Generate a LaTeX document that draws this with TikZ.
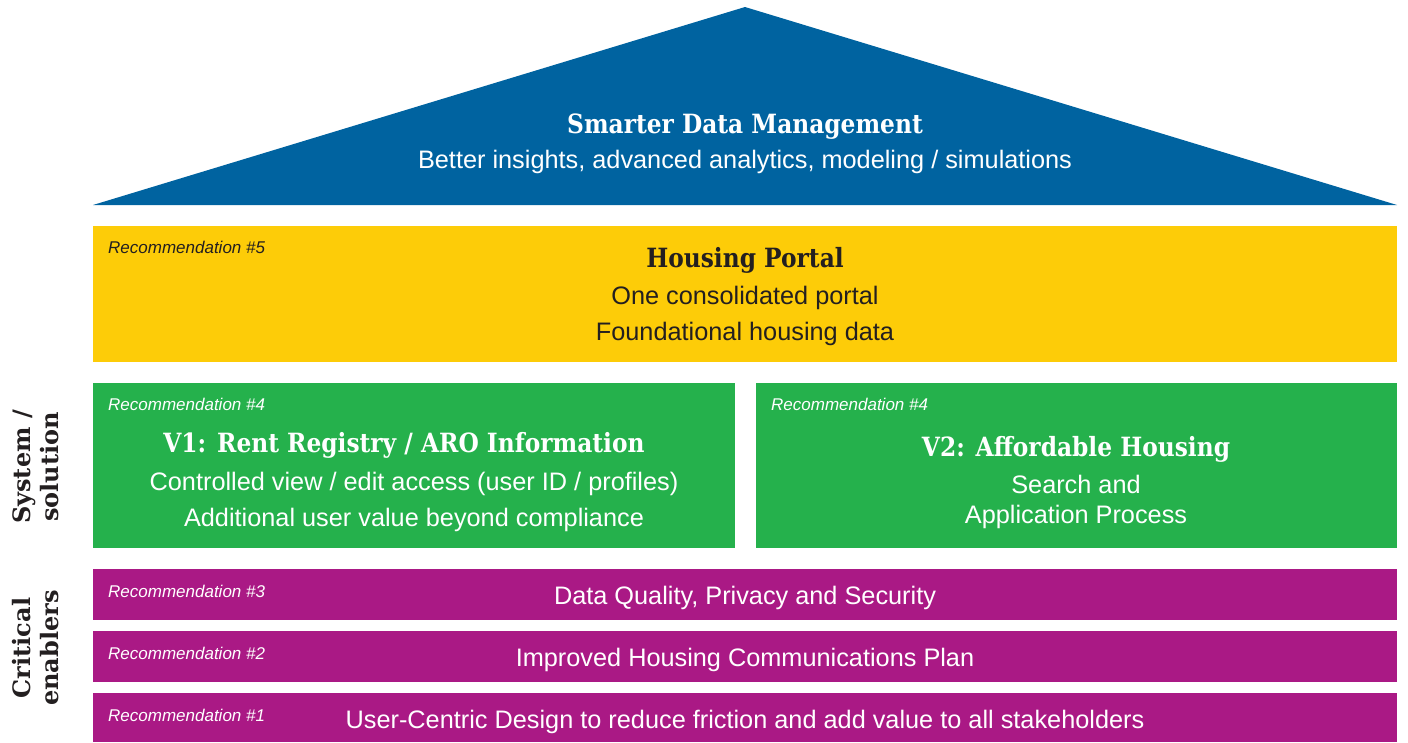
\documentclass[tikz,border=0pt]{standalone}
\usepackage{fontspec}
\setmainfont{Liberation Sans}
\newfontfamily\slab[FakeStretch=0.88]{DejaVu Serif}
\newfontfamily\sideslab{DejaVu Serif}
\definecolor{roofblue}{RGB}{0,99,160}
\definecolor{portalyellow}{RGB}{253,204,8}
\definecolor{versiongreen}{RGB}{37,177,76}
\definecolor{enablerpurple}{RGB}{170,25,133}
\definecolor{inkdark}{RGB}{35,31,32}

\begin{document}
\begin{tikzpicture}[x=1pt,y=-1pt,
  box/.style={anchor=north west,inner sep=0pt,outer sep=0pt},
  rec/.style={anchor=west,inner sep=0pt,font=\fontsize{17}{19}\selectfont\itshape},
  title/.style={inner sep=0pt,font=\fontsize{26.5}{30}\selectfont\slab\bfseries},
  body/.style={inner sep=0pt,align=center,font=\fontsize{25.3}{36.5}\selectfont},
  side/.style={inner sep=0pt,align=center,rotate=90,text=inkdark,
    font=\fontsize{24}{28}\selectfont\sideslab\bfseries}]
  \useasboundingbox (0,0) rectangle (1408,742);
%%
  % Roof: Smarter Data Management
  \coordinate (apex) at (745,7);
  \coordinate (eaveL) at (93,205);
  \coordinate (eaveR) at (1397,205);
  \fill [roofblue] (eaveL) -- (apex) -- (eaveR) -- cycle;
  \node [title,text=white] (roof_title) at (745,127) {Smarter Data Management};
  \node [body,text=white] (roof_body) at (745,162) {Better insights, advanced analytics, modeling / simulations};
  % Node: portal
  \node [box,fill=portalyellow,minimum width=1304,minimum height=136] (portal) at (93,226) {};
  \node [rec,text=inkdark] (portal_rec) at (108,247) {Recommendation \#5};
  \node [title,text=inkdark] (portal_title) at (745,260) {Housing Portal};
  \node [body,text=inkdark] (portal_body) at (745,316) {One consolidated portal\\Foundational housing data};
  % Node: v1
  \node [box,fill=versiongreen,minimum width=642,minimum height=165] (v1) at (93,383) {};
  \node [rec,text=white] (v1_rec) at (108,404) {Recommendation \#4};
  \node [title,text=white] (v1_title) at (404,445) {V1: Rent Registry / ARO Information};
  \node [body,text=white] (v1_body) at (414,502) {Controlled view / edit access (user ID / profiles)\\Additional user value beyond compliance};
  % Node: v2
  \node [box,fill=versiongreen,minimum width=641,minimum height=165] (v2) at (756,383) {};
  \node [rec,text=white] (v2_rec) at (771,404) {Recommendation \#4};
  \node [title,text=white] (v2_title) at (1076,449) {V2: Affordable Housing};
  \node [body,text=white,font=\fontsize{25.3}{29.5}\selectfont] (v2_body) at (1076,502) {Search and\\Application Process};
  % Node: quality
  \node [box,fill=enablerpurple,minimum width=1304,minimum height=51] (quality) at (93,569) {};
  \node [rec,text=white] (quality_rec) at (108,591) {Recommendation \#3};
  \node [body,text=white] (quality_text) at (745,598) {Data Quality, Privacy and Security};
  % Node: comms
  \node [box,fill=enablerpurple,minimum width=1304,minimum height=51] (comms) at (93,631) {};
  \node [rec,text=white] (comms_rec) at (108,653) {Recommendation \#2};
  \node [body,text=white] (comms_text) at (745,660) {Improved Housing Communications Plan};
  % Node: design
  \node [box,fill=enablerpurple,minimum width=1304,minimum height=49] (design) at (93,693) {};
  \node [rec,text=white] (design_rec) at (108,715) {Recommendation \#1};
  \node [body,text=white] (design_text) at (745,722) {User-Centric Design to reduce friction and add value to all stakeholders};
  % Side labels
  \node [side] (system_label) at (36,467) {System /\\solution};
  \node [side] (enabler_label) at (36,648) {Critical\\enablers};
%
\end{tikzpicture}
\end{document}
